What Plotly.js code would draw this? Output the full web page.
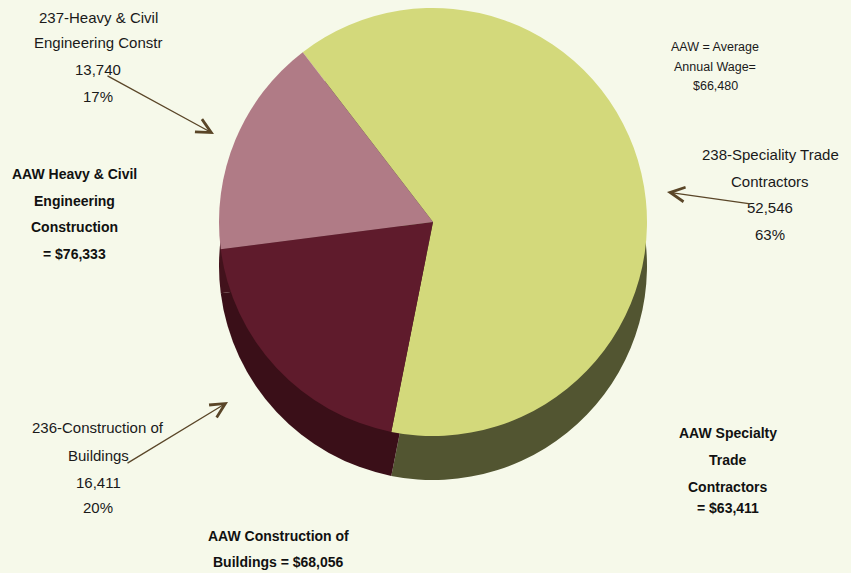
<!DOCTYPE html>
<html>
<head>
<meta charset="utf-8">
<script src="https://cdn.plot.ly/plotly-3.0.1.min.js"></script>
<style>
  html, body { margin: 0; padding: 0; background: #f6f9ea; }
  #chart { width: 851px; height: 573px; }
</style>
</head>
<body>
<div id="chart"></div>
<script>
// ---- data ----
const codes = ['238', '236', '237'];
const sectorNames = ['Speciality Trade Contractors', 'Construction of Buildings', 'Heavy & Civil Engineering Constr'];
const employment = [52546, 16411, 13740];
const percentLabels = ['63%', '20%', '17%'];
const aawNames = ['Specialty Trade Contractors', 'Construction of Buildings', 'Heavy & Civil Engineering Construction'];
const aawValues = [63411, 68056, 76333];
const overallAAW = 66480;

// ---- styling ----
const topColors = ['#d3d97b', '#5f1b2c', '#b07b86'];
const sideColors = ['#525531', '#3a0f18', '#42121c'];
const W = 851, H = 573;
const fmt = n => n.toLocaleString('en-US');
const px = x => x / W;
const py = y => 1 - y / H;

const sans = '"Liberation Sans", Arial, sans-serif';
const regFont = { family: sans, size: 15, color: '#1a1a1a' };
const boldFont = { family: sans, size: 14, color: '#111111', weight: 'bold' };
const smallFont = { family: sans, size: 12.5, color: '#1a1a1a' };

const R = 214, CX = 433, CY = 222, DEPTH = 44;
function pieTrace(colors, cy) {
  return {
    type: 'pie',
    values: employment,
    labels: codes.map((c, i) => c + '-' + sectorNames[i]),
    sort: false,
    direction: 'clockwise',
    rotation: -37.5,
    textinfo: 'none',
    hoverinfo: 'none',
    showlegend: false,
    marker: { colors: colors, line: { width: 0 } },
    domain: { x: [px(CX - R), px(CX + R)], y: [py(cy + R), py(cy - R)] }
  };
}

const annotations = [];
function block(lines, cx, ys, font) {
  lines.forEach((t, i) => {
    annotations.push({
      xref: 'paper', yref: 'paper', x: px(cx), y: py(ys[i]),
      xanchor: 'center', yanchor: 'middle', text: t, showarrow: false, font: font
    });
  });
}
function arrow(tail, head) {
  annotations.push({
    xref: 'paper', yref: 'paper', x: px(head[0]), y: py(head[1]),
    ax: tail[0] - head[0], ay: tail[1] - head[1],
    text: '', showarrow: true, arrowhead: 5, arrowsize: 2.2, arrowwidth: 1.3,
    arrowcolor: '#5a4628', standoff: 0, startstandoff: 0
  });
}

// sector labels
block([codes[2] + '-Heavy & Civil', 'Engineering Constr', fmt(employment[2]), percentLabels[2]], 98, [17, 43, 70, 97], regFont);
block([codes[0] + '-Speciality Trade', 'Contractors', fmt(employment[0]), percentLabels[0]], 770, [154, 181, 207, 234], regFont);
block([codes[1] + '-Construction of', 'Buildings', fmt(employment[1]), percentLabels[1]], 98, [427, 455, 482, 507], regFont);

// AAW labels
block(['AAW = Average', 'Annual Wage=', '$' + fmt(overallAAW)], 715, [47, 67, 86], smallFont);
block(['AAW Heavy & Civil', 'Engineering', 'Construction', '= $' + fmt(aawValues[2])], 74, [174, 201, 227, 254], boldFont);
block(['AAW Construction of', 'Buildings = $' + fmt(aawValues[1])], 278, [536, 562], boldFont);
block(['AAW Specialty', 'Trade', 'Contractors', '= $' + fmt(aawValues[0])], 728, [433, 460, 487, 508], boldFont);

// arrows
arrow([106, 75], [214, 134]);
arrow([752, 204], [667, 192]);
arrow([126, 464], [228, 402]);

const data = [pieTrace(sideColors, CY + DEPTH), pieTrace(topColors, CY)];
const layout = {
  width: W, height: H,
  margin: { l: 0, r: 0, t: 0, b: 0 },
  paper_bgcolor: '#f6f9ea',
  plot_bgcolor: '#f6f9ea',
  showlegend: false,
  annotations: annotations
};
Plotly.newPlot('chart', data, layout, { displayModeBar: false, staticPlot: true });
</script>
</body>
</html>
